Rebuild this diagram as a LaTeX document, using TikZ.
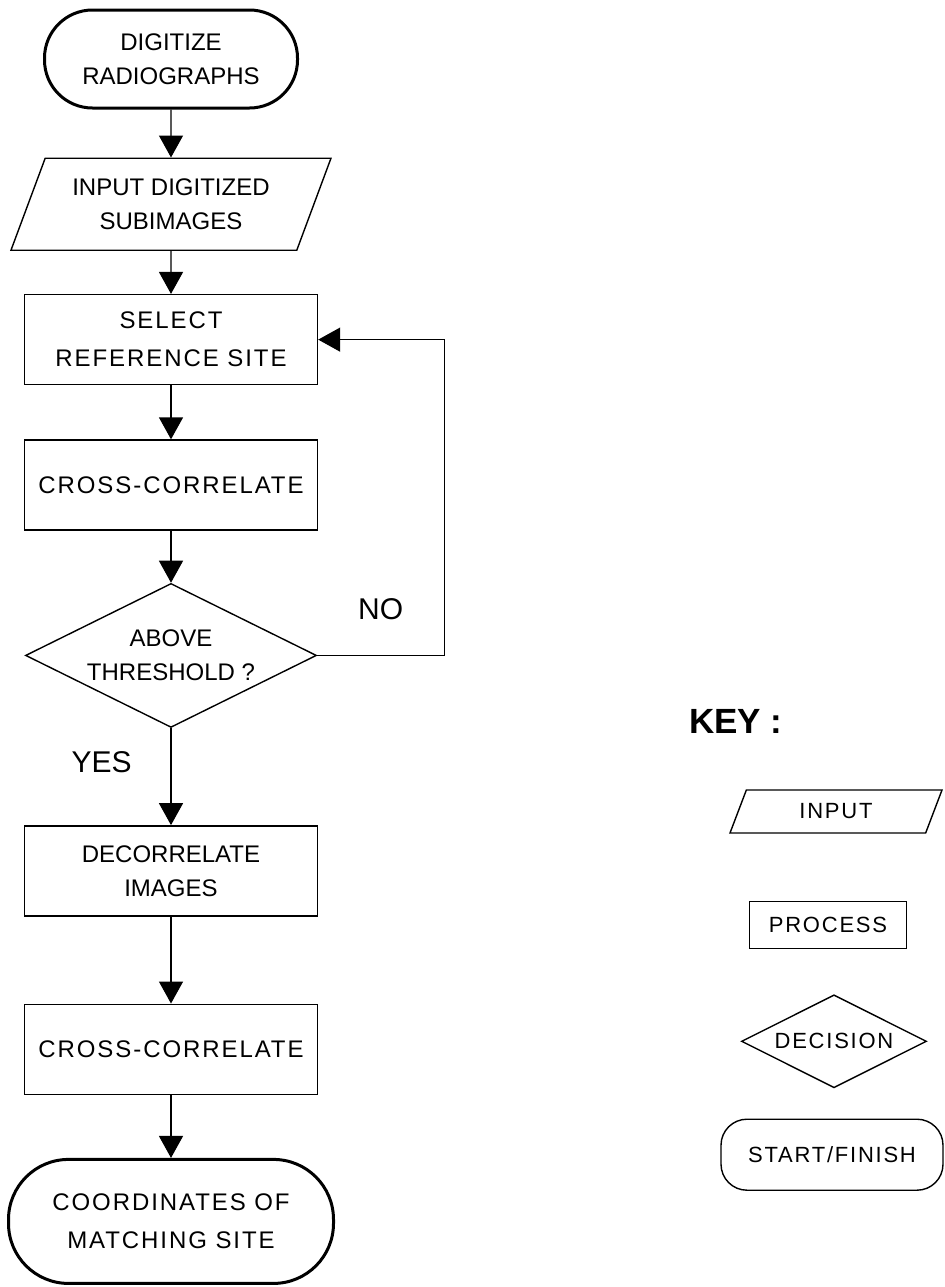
\documentclass[tikz,border=0pt]{standalone}
\usepackage{fontspec}
\setmainfont{Liberation Sans}
\newfontfamily\wide[LetterSpace=8]{Liberation Sans}
\usetikzlibrary{arrows.meta,positioning,shapes.geometric}

\begin{document}
\begin{tikzpicture}[x=0.5pt,y=-0.5pt,>={Triangle[length=11pt,width=12pt]},
  line width=0.7pt,font=\fontsize{12}{17}\selectfont,
  term/.style={draw,line width=1.5pt,rounded corners=24pt,align=center,
    minimum width=126.5pt,minimum height=49pt},
  inbox/.style={draw,trapezium,trapezium left angle=62,trapezium right angle=118,
    trapezium stretches body,align=center,minimum width=160pt,minimum height=46pt},
  proc/.style={draw,align=center,minimum width=146.5pt,minimum height=45pt},
  decis/.style={draw,diamond,aspect=2,inner sep=0pt,align=center,
    minimum width=145.5pt,minimum height=72pt},
  spaced/.style={font=\wide\fontsize{12}{19}\selectfont},
  keyfont/.style={font=\wide\fontsize{11}{13}\selectfont},
  answer/.style={font=\fontsize{15}{18}\selectfont}]
  \useasboundingbox (0,0) rectangle (944,1287);
  % main chain
  \node[term] (start) at (171,59) {DIGITIZE\\RADIOGRAPHS};
  \node[inbox,below=24pt of start] (input) {INPUT DIGITIZED\\SUBIMAGES};
  \node[proc,spaced,below=21.5pt of input] (select) {SELECT\\REFERENCE SITE};
  \node[proc,spaced,below=27pt of select] (cross) {CROSS-CORRELATE};
  \node[decis,below=26pt of cross] (test) {ABOVE\\THRESHOLD ?};
  \node[proc,below=48.5pt of test] (decor) {DECORRELATE\\IMAGES};
  \node[proc,spaced,below=43.5pt of decor] (crossb) {CROSS-CORRELATE};
  \node[term,spaced,below=31.5pt of crossb,minimum width=162.5pt,minimum height=62pt,
    rounded corners=30pt] (coord) {COORDINATES OF\\MATCHING SITE};
  \draw[->] (start) -- (input);
  \draw[->] (input) -- (select);
  \draw[->] (select) -- (cross);
  \draw[->] (cross) -- (test);
  \draw[->] (test) -- (decor);
  \draw[->] (decor) -- (crossb);
  \draw[->] (crossb) -- (coord);
  \draw[->] (test.east) -- node[answer,above=14pt] (no) {NO} ++(127,0) |- (select.east);
  \node[answer,below left=8pt and 16pt of test.south] (yes) {YES};
  % key
  \node[font=\bfseries\fontsize{17.5}{20}\selectfont] (key) at (736,721) {KEY :};
  \node[inbox,keyfont,trapezium left angle=55,trapezium right angle=125,
    minimum width=106pt,minimum height=21.5pt,inner sep=2pt] (keyin) at (836,811.5) {INPUT};
  \node[proc,keyfont,below=33.5pt of keyin,xshift=-4pt,minimum width=78.5pt,
    minimum height=23.5pt] (keyproc) {PROCESS};
  \node[decis,keyfont,below=22.5pt of keyproc,xshift=3pt,minimum width=92.5pt,
    minimum height=46.5pt] (keydec) {DECISION};
  \node[term,keyfont,below=15pt of keydec,xshift=-1pt,line width=0.7pt,minimum width=111pt,
    minimum height=35.5pt,rounded corners=13pt] (keyterm) {START/FINISH};
\end{tikzpicture}
\end{document}
